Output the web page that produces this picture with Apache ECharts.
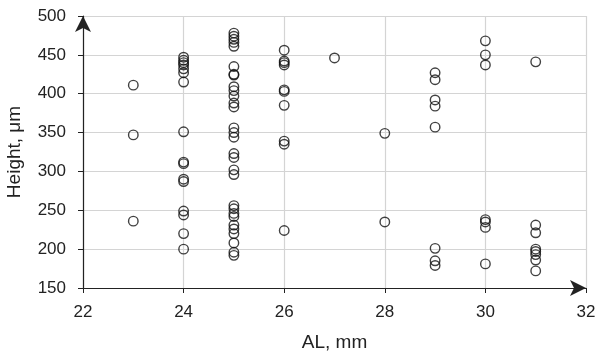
<!DOCTYPE html>
<html>
<head>
<meta charset="utf-8">
<script src="https://cdn.jsdelivr.net/npm/echarts@6/dist/echarts.min.js"></script>
<style>
  html, body { margin: 0; padding: 0; background: #fff; }
  #main { width: 600px; height: 356px; }
</style>
</head>
<body>
<div id="main"></div>
<script>
// 数据：每个 AL 值对应的高度
var al23 = [411, 347, 236];
var al24 = [447, 443, 440, 437, 432, 427, 415, 351, 312, 310, 290, 287, 249, 244, 220, 200];
var al25 = [478, 474, 470, 466, 461, 435, 425, 424, 409, 404, 397, 388, 383, 356, 350, 344,
            323, 318, 302, 296, 256, 252, 246, 242, 231, 226, 220, 208, 196, 192];
var al26 = [456, 442, 440, 437, 405, 403, 385, 339, 335, 224];
var al27 = [446];
var al28 = [349, 235];
var al29 = [427, 418, 392, 384, 357, 201, 185, 179];
var al30 = [468, 450, 437, 238, 235, 228, 181];
var al31 = [441, 231, 221, 200, 197, 193, 186, 172];

var groups = [[23, al23], [24, al24], [25, al25], [26, al26], [27, al27],
              [28, al28], [29, al29], [30, al30], [31, al31]];
var points = [];
groups.forEach(function (g) {
    g[1].forEach(function (h) { points.push([g[0], h]); });
});

var font = 'Liberation Sans, Arial, sans-serif';
var myChart = echarts.init(document.getElementById('main'));
myChart.setOption({
    animation: false,
    grid: { left: 83, right: 14, top: 16, bottom: 68, outerBoundsMode: 'none' },
    xAxis: {
        type: 'value', min: 22, max: 32, interval: 2,
        name: 'AL, mm', nameLocation: 'middle', nameGap: 45,
        nameTextStyle: { color: '#222', fontSize: 19, fontFamily: font },
        axisLine: { onZero: false, symbol: ['none', 'arrow'], symbolSize: [12, 16],
                    lineStyle: { color: '#222', width: 1.2 } },
        axisTick: { length: 5, lineStyle: { color: '#222' } },
        axisLabel: { color: '#222', fontSize: 17, fontFamily: font, margin: 16 },
        splitLine: { lineStyle: { color: '#d4d4d4', width: 1.2 } }
    },
    yAxis: {
        type: 'value', min: 150, max: 500, interval: 50,
        name: 'Height, μm', nameLocation: 'middle', nameGap: 59, nameRotate: 90,
        nameTextStyle: { color: '#222', fontSize: 19, fontFamily: font },
        axisLine: { onZero: false, symbol: ['none', 'arrow'], symbolSize: [12, 16],
                    lineStyle: { color: '#222', width: 1.2 } },
        axisTick: { show: true, length: 5, lineStyle: { color: '#222' } },
        axisLabel: { color: '#222', fontSize: 17, fontFamily: font, margin: 17 },
        splitLine: { lineStyle: { color: '#d4d4d4', width: 1.2 } }
    },
    series: [{
        type: 'scatter',
        data: points,
        symbol: 'circle',
        symbolSize: 9.5,
        itemStyle: { color: 'rgba(255,255,255,0)', borderColor: '#111', borderWidth: 1.4 }
    }]
});
</script>
</body>
</html>
